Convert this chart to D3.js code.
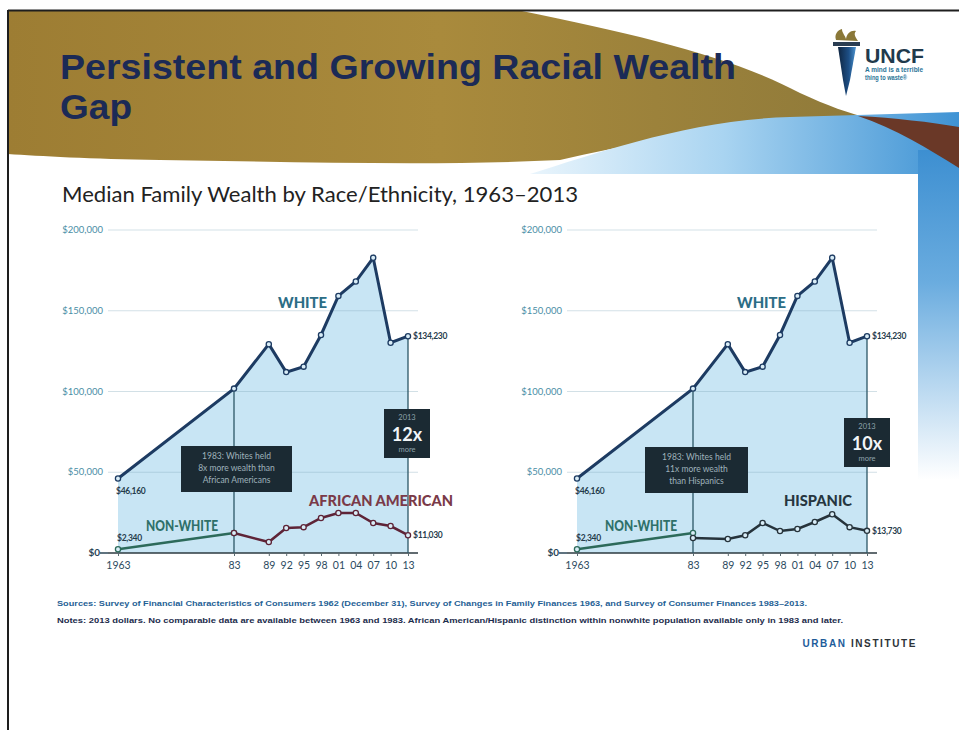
<!DOCTYPE html>
<html>
<head>
<meta charset="utf-8">
<script src="https://cdn.jsdelivr.net/npm/d3@7"></script>
<style>
  html, body { margin: 0; padding: 0; background: #fff; }
  svg { display: block; }
</style>
</head>
<body>
<svg id="slide" width="959" height="730"></svg>
<script>
// Survey years and median family wealth (2013 dollars)
const years = [1963, 1983, 1989, 1992, 1995, 1998, 2001, 2004, 2007, 2010, 2013];
const yearTickLabels = ["1963", "83", "89", "92", "95", "98", "01", "04", "07", "10", "13"];
const whiteWealth = [46160, 101800, 129300, 112000, 115400, 135000, 159200, 168100, 182800, 130200, 134230];
const nonWhiteYears = [1963, 1983];
const nonWhiteWealth = [2340, 12400];
const groupYears = [1983, 1989, 1992, 1995, 1998, 2001, 2004, 2007, 2010, 2013];
const africanAmericanWealth = [12400, 6800, 15500, 16000, 21700, 24800, 24800, 18600, 16700, 11030];
const hispanicWealth = [9300, 8700, 11000, 18600, 13600, 14900, 19200, 24000, 16000, 13730];
const yTickValues = [0, 50000, 100000, 150000, 200000];
const yTickLabels = ["$0", "$50,000", "$100,000", "$150,000", "$200,000"];

const svg = d3.select("#slide");
const defs = svg.append("defs");

// ---------- slide background ----------
const goldGrad = defs.append("linearGradient").attr("id", "gold").attr("x1", 0).attr("x2", 1).attr("y1", 0).attr("y2", 0);
goldGrad.append("stop").attr("offset", 0).attr("stop-color", "#9d7d33");
goldGrad.append("stop").attr("offset", 0.5).attr("stop-color", "#a98a3c");
goldGrad.append("stop").attr("offset", 1).attr("stop-color", "#8f7a3a");

const bandGrad = defs.append("linearGradient").attr("id", "band").attr("x1", 0).attr("x2", 1).attr("y1", 0).attr("y2", 0);
bandGrad.append("stop").attr("offset", 0).attr("stop-color", "#eaf5fc");
bandGrad.append("stop").attr("offset", 0.45).attr("stop-color", "#a9d4f1");
bandGrad.append("stop").attr("offset", 1).attr("stop-color", "#3f93d4");

const stripGrad = defs.append("linearGradient").attr("id", "strip").attr("x1", 0).attr("x2", 0).attr("y1", 0).attr("y2", 1);
stripGrad.append("stop").attr("offset", 0).attr("stop-color", "#3d8fd1");
stripGrad.append("stop").attr("offset", 0.4).attr("stop-color", "#6aacdf");
stripGrad.append("stop").attr("offset", 1).attr("stop-color", "#ffffff");

svg.append("path")
  .attr("d", "M8,11 L522,11 C640,35 735,58 800,93 C828,106 848,113 872,119 C760,120 650,140 560,160 C440,166 300,162 160,160 C90,159 40,156 8,154 Z")
  .attr("fill", "url(#gold)");

// blue wave and right edge strip
svg.append("path")
  .attr("d", "M530,174 C600,152 690,120 790,117 L959,112 L959,200 L918,200 L918,174 Z")
  .attr("fill", "url(#band)");
svg.append("rect").attr("x", 918).attr("y", 150).attr("width", 41).attr("height", 330)
  .attr("fill", "url(#strip)");
// brown wedge
svg.append("path")
  .attr("d", "M858,116 C895,118 930,122 959,127 L959,168 C930,150 895,128 858,116 Z")
  .attr("fill", "#6a3827");

// frame
svg.append("line").attr("x1", 8).attr("x2", 959).attr("y1", 10.5).attr("y2", 10.5).attr("stroke", "#1e1e1e").attr("stroke-width", 2);
svg.append("line").attr("x1", 8).attr("x2", 8).attr("y1", 10).attr("y2", 730).attr("stroke", "#1e1e1e").attr("stroke-width", 2);

// ---------- title ----------
const titleG = svg.append("g").attr("font-family", "'Liberation Sans', Arial, sans-serif").attr("font-weight", "bold").attr("fill", "#1b2a56");
titleG.append("text").attr("x", 60).attr("y", 79).attr("font-size", 35)
  .attr("textLength", 676).attr("lengthAdjust", "spacingAndGlyphs")
  .text("Persistent and Growing Racial Wealth");
titleG.append("text").attr("x", 60).attr("y", 119).attr("font-size", 35)
  .attr("textLength", 72).attr("lengthAdjust", "spacingAndGlyphs")
  .text("Gap");

// ---------- UNCF logo ----------
const logo = svg.append("g");
const bladeGrad = defs.append("linearGradient").attr("id", "blade").attr("x1", 0).attr("x2", 1).attr("y1", 0).attr("y2", 0);
bladeGrad.append("stop").attr("offset", 0).attr("stop-color", "#0f2540");
bladeGrad.append("stop").attr("offset", 0.6).attr("stop-color", "#1d4f86");
bladeGrad.append("stop").attr("offset", 1).attr("stop-color", "#4d94cf");
logo.append("path").attr("d", "M836,40 C834,34 838,30 842,29 C842,33 845,35 846,39 C847,33 851,30 856,31 C853,34 856,38 858,41 Z").attr("fill", "#8a7838");
logo.append("rect").attr("x", 833).attr("y", 42).attr("width", 27).attr("height", 4).attr("fill", "#2a3d52");
logo.append("path").attr("d", "M838,47 L856,47 L850,80 L846,96 L843,80 Z").attr("fill", "url(#blade)");
logo.append("text").attr("x", 865).attr("y", 63).attr("font-family", "'Liberation Sans', Arial, sans-serif")
  .attr("font-weight", "bold").attr("font-size", 21).attr("fill", "#1f3a4c")
  .attr("textLength", 59).attr("lengthAdjust", "spacingAndGlyphs").text("UNCF");
logo.append("text").attr("x", 865).attr("y", 72).attr("font-family", "'Liberation Sans', Arial, sans-serif")
  .attr("font-weight", "bold").attr("font-size", 6.5).attr("fill", "#2a7497")
  .attr("textLength", 58).attr("lengthAdjust", "spacingAndGlyphs").text("A mind is a terrible");
logo.append("text").attr("x", 865).attr("y", 80).attr("font-family", "'Liberation Sans', Arial, sans-serif")
  .attr("font-weight", "bold").attr("font-size", 6.5).attr("fill", "#2a7497")
  .attr("textLength", 42).attr("lengthAdjust", "spacingAndGlyphs").text("thing to waste\u00ae");

// ---------- white content panel ----------
svg.append("rect").attr("x", 9).attr("y", 174).attr("width", 909).attr("height", 556).attr("fill", "#ffffff");

svg.append("text").attr("x", 62).attr("y", 202)
  .attr("font-family", "Lato, 'Open Sans', sans-serif").attr("font-size", 21).attr("fill", "#222")
  .attr("textLength", 516).attr("lengthAdjust", "spacingAndGlyphs")
  .text("Median Family Wealth by Race/Ethnicity, 1963\u20132013");

// ---------- chart panels ----------
function drawPanel(cfg) {
  const g = svg.append("g");
  const x = d3.scaleLinear().domain([1963, 2013]).range([cfg.x0, cfg.x0 + 290]);
  const y = d3.scaleLinear().domain([0, 200000]).range([553, 230]);
  const whiteData = years.map((yr, i) => ({ year: yr, value: whiteWealth[i] }));
  const nonWhiteData = nonWhiteYears.map((yr, i) => ({ year: yr, value: nonWhiteWealth[i] }));
  const groupData = groupYears.map((yr, i) => ({ year: yr, value: cfg.groupValues[i] }));
  const xLeft = cfg.x0 - 10, xRight = x(2013) + 10;

  // area under the white series
  const area = d3.area().x(d => x(d.year)).y0(y(0)).y1(d => y(d.value));
  g.append("path").datum(whiteData).attr("d", area).attr("fill", "#c8e5f4");

  // horizontal gridlines
  g.selectAll("line.grid").data(yTickValues.filter(v => v > 0)).join("line")
    .attr("class", "grid")
    .attr("x1", xLeft).attr("x2", xRight)
    .attr("y1", d => y(d)).attr("y2", d => y(d))
    .attr("stroke", "#7fa6b8").attr("stroke-opacity", 0.35).attr("stroke-width", 1);

  // y labels
  g.selectAll("text.ylab").data(yTickValues).join("text")
    .attr("class", "ylab")
    .attr("x", d => d === 0 ? cfg.x0 - 18 : cfg.x0 - 15)
    .attr("y", d => y(d) + 3)
    .attr("text-anchor", "end")
    .attr("font-family", "Lato, sans-serif")
    .attr("font-size", d => d === 0 ? 10 : 9.5)
    .attr("font-weight", d => d === 0 ? "bold" : "normal")
    .attr("fill", d => d === 0 ? "#2a4455" : "#4a8ea6")
    .text((d, i) => yTickLabels[i]);
  g.append("line").attr("x1", cfg.x0 - 18).attr("x2", xLeft).attr("y1", y(0)).attr("y2", y(0))
    .attr("stroke", "#2a4455").attr("stroke-width", 1.5);

  // x axis
  const xAxis = d3.axisBottom(x).tickValues(years).tickSize(3).tickPadding(6)
    .tickFormat((d, i) => yearTickLabels[i]);
  const ax = g.append("g").attr("transform", `translate(0,${y(0)})`).call(xAxis);
  ax.select(".domain").attr("d", `M${xLeft},0H${xRight}`).attr("stroke", "#2d3a40").attr("stroke-width", 1.6);
  ax.selectAll(".tick line").attr("stroke", "#5a6a70");
  ax.selectAll(".tick text").attr("font-family", "Lato, sans-serif").attr("font-size", 10.5).attr("fill", "#2b4a5e");

  // vertical guides at 1983 and 2013
  [1983, 2013].forEach(yr => {
    const v = whiteWealth[years.indexOf(yr)];
    g.append("line").attr("x1", x(yr)).attr("x2", x(yr)).attr("y1", y(v)).attr("y2", y(0))
      .attr("stroke", "#2b5666").attr("stroke-width", 1.3);
  });

  const line = d3.line().x(d => x(d.year)).y(d => y(d.value));
  g.append("path").datum(nonWhiteData).attr("d", line).attr("fill", "none").attr("stroke", "#2c6a5a").attr("stroke-width", 2.5);
  g.append("path").datum(groupData).attr("d", line).attr("fill", "none").attr("stroke", cfg.groupColor).attr("stroke-width", 2.5);
  g.append("path").datum(whiteData).attr("d", line).attr("fill", "none").attr("stroke", "#1d3b62").attr("stroke-width", 3);

  const dots = (data, color) => g.append("g").selectAll("circle").data(data).join("circle")
    .attr("cx", d => x(d.year)).attr("cy", d => y(d.value)).attr("r", 2.6)
    .attr("fill", "#d9edf7").attr("stroke", color).attr("stroke-width", 1.3);
  dots(nonWhiteData, "#2c6a5a");
  dots(groupData, cfg.groupColor);
  dots(whiteData, "#1d3b62");

  // series labels
  const lab = (tx, ty, txt, color, len) => g.append("text").attr("x", tx).attr("y", ty)
    .attr("font-family", "Lato, sans-serif").attr("font-weight", 900).attr("font-size", 15)
    .attr("fill", color).attr("textLength", len).attr("lengthAdjust", "spacingAndGlyphs").text(txt);
  lab(cfg.x0 + 160, 308, "WHITE", "#2c6d86", 49);
  lab(cfg.x0 + 28, 531, "NON-WHITE", "#2f7069", 72);
  lab(cfg.groupLabelX, 506, cfg.groupLabel, cfg.groupLabelColor, cfg.groupLabelLen);

  // value labels
  const val = (tx, ty, txt) => g.append("text").attr("x", tx).attr("y", ty)
    .attr("font-family", "Lato, sans-serif").attr("font-weight", "bold").attr("font-size", 8.5)
    .attr("fill", "#263c4c").attr("letter-spacing", -0.3).text(txt);
  val(cfg.x0 - 2, 494, "$" + d3.format(",")(whiteWealth[0]));
  val(cfg.x0 - 1, 541, "$" + d3.format(",")(nonWhiteWealth[0]));
  val(x(2013) + 5, y(whiteWealth[whiteWealth.length - 1]) + 3, "$" + d3.format(",")(whiteWealth[whiteWealth.length - 1]));
  val(x(2013) + 5, y(cfg.groupValues[cfg.groupValues.length - 1]) + 3, "$" + d3.format(",")(cfg.groupValues[cfg.groupValues.length - 1]));

  // 1983 note
  const nb = cfg.noteBox;
  g.append("rect").attr("x", nb.x).attr("y", nb.y).attr("width", nb.w).attr("height", 46).attr("fill", "#1b2a33");
  nb.lines.forEach((t, i) => g.append("text").attr("x", nb.x + nb.w / 2).attr("y", nb.y + 13 + i * 12)
    .attr("text-anchor", "middle").attr("font-family", "Lato, sans-serif").attr("font-size", 8.5)
    .attr("fill", "#9fb2bb").text(t));

  // 2013 ratio box
  const rb = cfg.ratioBox;
  g.append("rect").attr("x", rb.x).attr("y", rb.y).attr("width", 46).attr("height", 49).attr("fill", "#1b2a33");
  g.append("text").attr("x", rb.x + 23).attr("y", rb.y + 11).attr("text-anchor", "middle")
    .attr("font-family", "Lato, sans-serif").attr("font-size", 7.5).attr("fill", "#8fa3ac").text("2013");
  g.append("text").attr("x", rb.x + 23).attr("y", rb.y + 32).attr("text-anchor", "middle")
    .attr("font-family", "Lato, sans-serif").attr("font-weight", "bold").attr("font-size", 18).attr("fill", "#f2f6f8").text(rb.text);
  g.append("text").attr("x", rb.x + 23).attr("y", rb.y + 43).attr("text-anchor", "middle")
    .attr("font-family", "Lato, sans-serif").attr("font-size", 7.5).attr("fill", "#8fa3ac").text("more");
}

drawPanel({
  x0: 118,
  groupValues: africanAmericanWealth,
  groupColor: "#5e2437",
  groupLabel: "AFRICAN AMERICAN",
  groupLabelColor: "#7a3a48",
  groupLabelX: 309,
  groupLabelLen: 144,
  noteBox: { x: 181, y: 446, w: 111, lines: ["1983: Whites held", "8x more wealth than", "African Americans"] },
  ratioBox: { x: 384, y: 409, text: "12x" }
});

drawPanel({
  x0: 577,
  groupValues: hispanicWealth,
  groupColor: "#26333b",
  groupLabel: "HISPANIC",
  groupLabelColor: "#263640",
  groupLabelX: 784,
  groupLabelLen: 68,
  noteBox: { x: 645, y: 447, w: 103, lines: ["1983: Whites held", "11x more wealth", "than Hispanics"] },
  ratioBox: { x: 844, y: 418, text: "10x" }
});

// ---------- footnotes ----------
svg.append("text").attr("x", 57).attr("y", 606)
  .attr("font-family", "'Liberation Sans Narrow', 'Liberation Sans', sans-serif").attr("font-weight", "bold")
  .attr("font-size", 7.5).attr("fill", "#1f5f95")
  .attr("textLength", 750).attr("lengthAdjust", "spacingAndGlyphs")
  .text("Sources: Survey of Financial Characteristics of Consumers 1962 (December 31), Survey of Changes in Family Finances 1963, and Survey of Consumer Finances 1983\u20132013.");
svg.append("text").attr("x", 57).attr("y", 623)
  .attr("font-family", "'Liberation Sans Narrow', 'Liberation Sans', sans-serif").attr("font-weight", "bold")
  .attr("font-size", 7.5).attr("fill", "#1c2c4c")
  .attr("textLength", 786).attr("lengthAdjust", "spacingAndGlyphs")
  .text("Notes: 2013 dollars. No comparable data are available between 1963 and 1983. African American/Hispanic distinction within nonwhite population available only in 1983 and later.");

const ui = svg.append("text").attr("x", 917).attr("y", 647).attr("text-anchor", "end")
  .attr("font-family", "'Liberation Sans', sans-serif").attr("font-weight", "bold").attr("font-size", 10)
  .attr("letter-spacing", 1.6);
ui.append("tspan").attr("fill", "#1d5c9a").text("URBAN ");
ui.append("tspan").attr("fill", "#2d3338").text("INSTITUTE");
</script>
</body>
</html>
